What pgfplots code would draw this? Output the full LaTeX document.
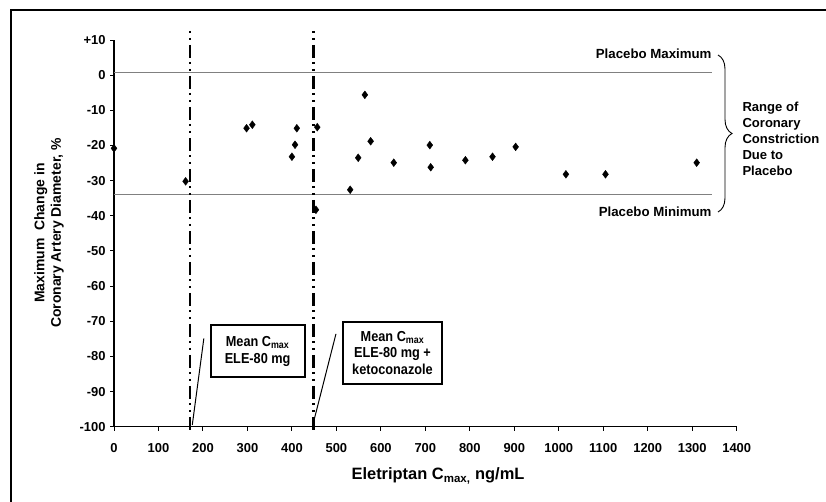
\documentclass[border=0pt]{standalone}
\usepackage{fontspec}
\setmainfont{Liberation Sans}
\newfontfamily\narrowfont[FakeStretch=0.88]{Liberation Sans}
\usepackage{pgfplots}
\pgfplotsset{compat=1.18}
\usetikzlibrary{decorations.pathreplacing}

\begin{document}
\begin{tikzpicture}
\path[use as bounding box] (0,0) rectangle (826bp,-502bp);
% outer frame (only top and left edges fall inside the picture)
\draw[line width=2bp] (11bp,-502bp) -- (11bp,-10bp) -- (826bp,-10bp);

\begin{axis}[
  scale only axis,
  width=622.7bp, height=386.7bp,
  at={(114bp,-426.7bp)}, anchor=south west,
  xmin=0, xmax=1400, ymin=-100, ymax=10,
  axis x line=bottom, axis y line=left,
  axis line style={-, line width=1.5bp, black},
  tick style={line width=1bp, black},
  major tick length=4bp,
  tick align=outside,
  xtick={0,100,...,1400},
  xticklabels={0,100,200,300,400,500,600,700,800,900,1000,1100,1200,1300,1400},
  ytick={-100,-90,...,10},
  yticklabels={-100,-90,-80,-70,-60,-50,-40,-30,-20,-10,0,+10},
  tick label style={font=\fontsize{13}{15}\selectfont\bfseries},
  xticklabel style={yshift=-9bp},
  yticklabel style={xshift=-1bp},
  clip=false,
]
% placebo range
\addplot[gray, line width=1.3bp] coordinates {(0,0.8) (1344,0.8)};
\addplot[gray, line width=1.3bp] coordinates {(0,-33.9) (1344,-33.9)};

% mean Cmax markers
\addplot[black, line width=2.5bp, dash pattern=on 2bp off 5bp on 2bp off 5bp on 13bp off 4bp] coordinates {(171,12.6) (171,-102)};
\addplot[black, line width=2.5bp, dash pattern=on 2bp off 5bp on 2bp off 5bp on 13bp off 4bp] coordinates {(448,12.6) (448,-102)};

% leader lines to the boxes
\addplot[black, line width=1bp] coordinates {(202,-74.9) (176,-99.5)};
\addplot[black, line width=1bp] coordinates {(499,-73.6) (447,-99.5)};

% individual subjects
\addplot[only marks, mark=diamond*, mark size=3.9bp, black] coordinates {
  (0,-20.8) (161,-30.2) (298,-15.1) (311,-14.1) (400,-23.2) (407,-19.8)
  (411,-15.1) (457,-14.8) (454,-38.3) (531,-32.6) (549,-23.5) (564,-5.6)
  (577,-18.8) (629,-24.9) (710,-19.9) (712,-26.2) (790,-24.2) (851,-23.2)
  (903,-20.4) (1016,-28.2) (1105,-28.2) (1310,-24.9)
};
\end{axis}

% annotations
\node[draw, line width=2bp, minimum width=93.8bp, minimum height=51.5bp, align=center,
  font=\fontsize{14.5}{17}\narrowfont\bfseries, inner sep=0pt]
  at (257.6bp,-351.2bp) {Mean C\textsubscript{max}\\ELE-80 mg};
\node[draw, line width=2bp, minimum width=99.6bp, minimum height=62bp, align=center,
  font=\fontsize{14.5}{17}\narrowfont\bfseries, inner sep=0pt]
  at (392.5bp,-353bp) {Mean C\textsubscript{max}\\ELE-80 mg +\\ketoconazole};

\node[anchor=east, font=\fontsize{13.3}{15}\selectfont\bfseries] at (715bp,-54bp) {Placebo Maximum};
\node[anchor=east, font=\fontsize{13.3}{15}\selectfont\bfseries] at (715bp,-212bp) {Placebo Minimum};
\draw[line width=0.9bp, decorate, decoration={brace, amplitude=14bp}] (718bp,-55bp) -- (718bp,-212bp);
\node[anchor=west, align=left, font=\fontsize{13.1}{16}\selectfont\bfseries] at (739bp,-139bp)
  {Range of\\Coronary\\Constriction\\Due to\\Placebo};

\node[rotate=90, align=center, font=\fontsize{14}{16.5}\selectfont\bfseries] at (49bp,-233bp)
  {Maximum\ \ Change in\\Coronary Artery Diameter, \%};
\node[font=\fontsize{16.5}{18}\selectfont\bfseries] at (438bp,-476bp)
  {Eletriptan C\textsubscript{max,} ng/mL};
\end{tikzpicture}
\end{document}
